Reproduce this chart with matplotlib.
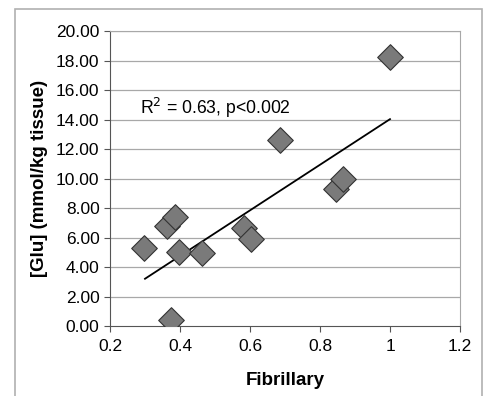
import matplotlib.pyplot as plt

plt.rcParams['font.family'] = ['Liberation Sans', 'DejaVu Sans']

# Fibrillary fraction vs glutamate content
fibrillary = [0.296, 0.362, 0.386, 0.398, 0.464, 0.375, 0.582, 0.602, 0.686, 0.846, 0.865, 1.0]
glu = [5.28, 6.79, 7.38, 5.01, 4.94, 0.43, 6.63, 5.89, 12.6, 9.32, 9.95, 18.25]
# trend line end points as drawn in the figure
trend_x = [0.30, 1.0]
trend_y = [3.22, 14.03]
x_ticks = [0.2, 0.4, 0.6, 0.8, 1.0, 1.2]
x_labels = ["0.2", "0.4", "0.6", "0.8", "1", "1.2"]
y_ticks = [0, 2, 4, 6, 8, 10, 12, 14, 16, 18, 20]

fig = plt.figure(figsize=(4.9, 3.96), dpi=100)
ax = fig.add_axes([110 / 490, 1 - 326.3 / 396, 350 / 490, 295.3 / 396])

# outer chart border
fig.add_artist(plt.Rectangle((15 / 490, -0.02), 467 / 490, 1 - 9 / 396 + 0.02,
                             transform=fig.transFigure, fill=False,
                             edgecolor='#b0b0b0', linewidth=1.2))

for yv in y_ticks[1:]:
    ax.axhline(yv, color='#a8a8a8', linewidth=0.9, zorder=0)

ax.plot(trend_x, trend_y, color='black', linewidth=1.3, zorder=2)

ax.scatter(fibrillary, glu, marker='D', s=170, color='#7a7a7a',
           edgecolor='#333333', linewidth=0.8, zorder=3)

ax.text(0.286, 14.8, "R$^2$ = 0.63, p<0.002", fontsize=12.7, va='center')

ax.set_xlim(0.2, 1.2)
ax.set_ylim(0, 20)
ax.set_xticks(x_ticks)
ax.set_xticklabels(x_labels)
ax.set_yticks(y_ticks)
ax.set_yticklabels(["%.2f" % v for v in y_ticks])
ax.tick_params(labelsize=12.5, length=4, color='#555555', direction='out')
ax.tick_params(axis='x', pad=5)
for side in ['left', 'bottom']:
    ax.spines[side].set_color('#555555')
for side in ['top', 'right']:
    ax.spines[side].set_color('#a8a8a8')

ax.set_xlabel("Fibrillary", fontsize=13.5, fontweight='bold', labelpad=13)
ax.set_ylabel("[Glu] (mmol/kg tissue)", fontsize=13.5, fontweight='bold', labelpad=6)

fig.savefig("out.png", dpi=100)
